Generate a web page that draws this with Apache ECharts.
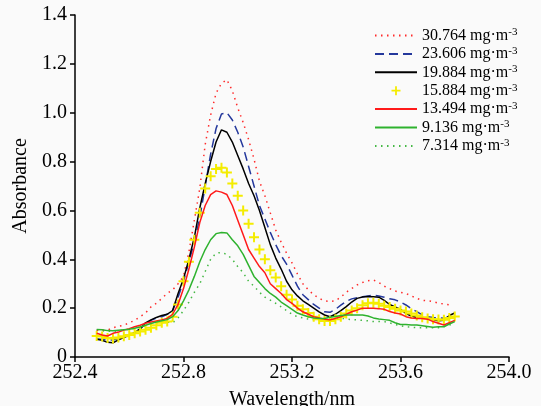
<!DOCTYPE html>
<html>
<head>
<meta charset="utf-8">
<script src="https://cdn.jsdelivr.net/npm/echarts@6/dist/echarts.min.js"></script>
<style>
html,body{margin:0;padding:0;background:#fafafa;}
#chart{width:541px;height:406px;}
</style>
</head>
<body>
<div id="chart"></div>
<script>
const wavelengths = [252.48,252.50,252.52,252.54,252.56,252.58,252.60,252.62,252.64,252.66,
252.68,252.70,252.72,252.74,252.76,252.78,252.80,252.82,252.84,252.86,
252.88,252.90,252.92,252.94,252.96,252.98,253.00,253.02,253.04,253.06,
253.08,253.10,253.12,253.14,253.16,253.18,253.20,253.22,253.24,253.26,
253.28,253.30,253.32,253.34,253.36,253.38,253.40,253.42,253.44,253.46,
253.48,253.50,253.52,253.54,253.56,253.58,253.60,253.62,253.64,253.66,
253.68,253.70,253.72,253.74,253.76,253.78,253.80];

const seriesNames = ['30.764','23.606','19.884','15.884','13.494','9.136','7.314'];

const c30764 = [0.11,0.11,0.11,0.12,0.125,0.13,0.14,0.15,0.165,0.18,
0.205,0.22,0.24,0.26,0.275,0.30,0.33,0.43,0.56,0.69,
0.87,0.99,1.08,1.12,1.135,1.09,1.02,0.96,0.89,0.81,
0.72,0.66,0.59,0.52,0.47,0.425,0.385,0.34,0.30,0.275,
0.255,0.24,0.23,0.227,0.23,0.245,0.265,0.28,0.295,0.305,
0.312,0.315,0.305,0.29,0.28,0.27,0.265,0.26,0.25,0.24,
0.232,0.23,0.227,0.22,0.217,0.214,null];

const c23606 = [0.075,0.072,0.068,0.07,0.075,0.082,0.09,0.10,0.115,0.135,
0.15,0.16,0.165,0.175,0.19,0.245,0.31,0.39,0.47,0.57,
0.70,0.83,0.935,0.995,1.0,0.97,0.92,0.86,0.78,0.70,
0.62,0.565,0.51,0.46,0.415,0.38,0.335,0.29,0.255,0.235,
0.215,0.20,0.185,0.183,0.195,0.212,0.228,0.238,0.243,0.247,
0.25,0.253,0.25,0.245,0.238,0.234,0.225,0.213,0.198,0.186,
0.172,0.165,0.162,0.16,0.159,0.165,0.175];

const c19884 = [0.073,0.068,0.06,0.058,0.07,0.08,0.09,0.10,0.115,0.14,
0.152,0.162,0.17,0.175,0.19,0.26,0.32,0.40,0.49,0.61,
0.71,0.80,0.88,0.93,0.92,0.88,0.825,0.77,0.71,0.66,
0.60,0.53,0.46,0.405,0.36,0.31,0.275,0.25,0.23,0.215,
0.20,0.185,0.172,0.165,0.175,0.19,0.206,0.225,0.24,0.246,
0.248,0.247,0.245,0.232,0.215,0.205,0.195,0.178,0.168,0.162,
0.162,0.158,0.152,0.148,0.15,0.17,0.18];

const c15884 = [0.086,0.084,0.078,0.076,0.08,0.085,0.09,0.097,0.104,0.112,
0.12,0.13,0.14,0.145,0.165,0.215,0.31,0.39,0.48,0.59,
0.69,0.74,0.77,0.775,0.755,0.71,0.66,0.60,0.545,0.49,
0.44,0.40,0.355,0.325,0.29,0.255,0.235,0.21,0.195,0.18,
0.165,0.155,0.147,0.147,0.155,0.165,0.178,0.19,0.20,0.212,
0.22,0.222,0.218,0.21,0.205,0.198,0.19,0.186,0.178,0.17,
0.163,0.158,0.155,0.153,0.152,0.16,0.166];

const c13494 = [0.097,0.09,0.086,0.097,0.102,0.11,0.116,0.124,0.13,0.138,
0.143,0.147,0.152,0.158,0.175,0.215,0.28,0.36,0.45,0.55,
0.62,0.665,0.68,0.675,0.665,0.62,0.56,0.50,0.44,0.405,
0.37,0.345,0.30,0.28,0.26,0.235,0.22,0.20,0.185,0.175,
0.165,0.16,0.155,0.152,0.158,0.165,0.175,0.185,0.192,0.20,
0.20,0.20,0.198,0.195,0.186,0.18,0.176,0.165,0.16,0.158,
0.158,0.155,0.145,0.138,0.131,0.14,0.15];

const c9136 = [0.113,0.112,0.108,0.107,0.11,0.112,0.114,0.118,0.123,0.13,
0.137,0.143,0.148,0.153,0.165,0.19,0.23,0.275,0.33,0.39,
0.44,0.48,0.505,0.51,0.508,0.48,0.455,0.42,0.375,0.33,
0.305,0.28,0.26,0.245,0.225,0.21,0.195,0.18,0.172,0.165,
0.16,0.158,0.158,0.163,0.166,0.17,0.172,0.172,0.172,0.172,
0.168,0.16,0.156,0.153,0.15,0.14,0.133,0.133,0.131,0.131,
0.128,0.125,0.122,0.124,0.124,0.135,0.145];

const c7314 = [0.11,0.108,0.105,0.105,0.107,0.11,0.113,0.117,0.122,0.127,
0.132,0.137,0.14,0.143,0.14,0.16,0.19,0.225,0.265,0.30,
0.35,0.40,0.425,0.428,0.42,0.40,0.37,0.345,0.31,0.29,
0.265,0.245,0.233,0.22,0.205,0.19,0.175,0.165,0.16,0.155,
0.153,0.152,0.152,0.155,0.158,0.159,0.156,0.153,0.152,0.15,
0.148,0.145,0.145,0.145,0.14,0.133,0.128,0.124,0.122,0.12,
0.12,0.12,0.12,0.12,0.125,0.13,0.14];

const xTicks = [252.4, 252.8, 253.2, 253.6, 254.0];
const yTicks = [0, 0.2, 0.4, 0.6, 0.8, 1.0, 1.2, 1.4];

function pairs(ys){ return wavelengths.map((x,i)=>[x, ys[i]]); }

const font = '"Liberation Serif","Times New Roman",serif';
const plusPath = 'path://M4,0L6,0L6,4L10,4L10,6L6,6L6,10L4,10L4,6L0,6L0,4L4,4Z';
const legendPlus = 'path://M0,0M14,14M6.1,2.5L7.9,2.5L7.9,6.1L11.5,6.1L11.5,7.9L7.9,7.9L7.9,11.5L6.1,11.5L6.1,7.9L2.5,7.9L2.5,6.1L6.1,6.1Z';

function lineSeries(name, data, color, type, z){
  return {
    name: name, type: 'line', data: pairs(data), symbol: 'none', z: z,
    connectNulls: false,
    lineStyle: {color: color, width: 1.5, type: type},
    itemStyle: {color: color}
  };
}

const legendData = seriesNames.map((n, i) => i === 3
  ? {name: n, icon: legendPlus}
  : {name: n, itemStyle: {opacity: 0}});

const chart = echarts.init(document.getElementById('chart'), null, {renderer:'canvas'});
chart.setOption({
  animation: false,
  backgroundColor: '#fafafa',
  grid: {left: 75, right: 32, top: 15, bottom: 49, containLabel: false, outerBoundsMode: 'none'},
  xAxis: {
    type: 'value', min: xTicks[0], max: xTicks[xTicks.length-1], interval: 0.4,
    name: 'Wavelength/nm', nameLocation: 'middle', nameGap: 33,
    nameTextStyle: {fontFamily: font, fontSize: 20, color: '#000'},
    axisLine: {show: true, lineStyle: {color: '#000', width: 1.5}},
    axisTick: {show: true, inside: false, length: 5, lineStyle: {color: '#000', width: 1.5}},
    axisLabel: {fontFamily: font, fontSize: 20, color: '#000', margin: 6,
      formatter: v => v.toFixed(1)},
    splitLine: {show: false}
  },
  yAxis: {
    type: 'value', min: yTicks[0], max: yTicks[yTicks.length-1], interval: 0.2,
    name: 'Absorbance', nameLocation: 'middle', nameGap: 43,
    nameTextStyle: {fontFamily: font, fontSize: 20, color: '#000'},
    axisLine: {show: true, lineStyle: {color: '#000', width: 1.5}},
    axisTick: {show: true, inside: false, length: 5, lineStyle: {color: '#000', width: 1.5}},
    axisLabel: {fontFamily: font, fontSize: 20, color: '#000', margin: 8,
      formatter: v => v === 0 ? '0' : v.toFixed(1)},
    splitLine: {show: false}
  },
  legend: {
    orient: 'vertical', left: 374, top: 27, padding: 0,
    itemWidth: 42, itemHeight: 14, itemGap: 1.9,
    data: legendData,
    formatter: n => '{t|' + n + ' mg·m}{s|-3}',
    textStyle: {
      fontFamily: font, fontSize: 16, color: '#000',
      rich: {
        t: {fontFamily: font, fontSize: 16, color: '#000', lineHeight: 17},
        s: {fontFamily: font, fontSize: 11, color: '#000', lineHeight: 11, verticalAlign: 'top'}
      }
    }
  },
  series: [
    lineSeries(seriesNames[0], c30764, '#ff2a2a', [1.5, 4.5], 2),
    lineSeries(seriesNames[1], c23606, '#24389c', [9, 5], 3),
    lineSeries(seriesNames[2], c19884, '#000000', 'solid', 4),
    {
      name: seriesNames[3], type: 'scatter', data: pairs(c15884), z: 5,
      symbol: plusPath, symbolSize: 10,
      itemStyle: {color: '#f4ec00', opacity: 1}
    },
    lineSeries(seriesNames[4], c13494, '#ff1a1a', 'solid', 6),
    lineSeries(seriesNames[5], c9136, '#2eb22e', 'solid', 7),
    lineSeries(seriesNames[6], c7314, '#45b845', [1.5, 4.5], 1)
  ]
});
</script>
</body>
</html>
